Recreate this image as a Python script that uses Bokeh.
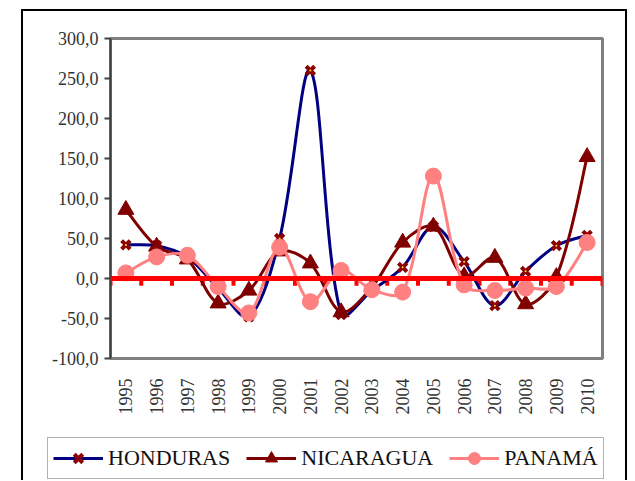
from bokeh.plotting import figure
from bokeh.layouts import column
from bokeh.models import (FixedTicker, ColumnDataSource, Span, Legend, LegendItem)
from bokeh.embed import file_html
from bokeh.resources import INLINE
import math

years = list(range(1995, 2011))
year_labels = [str(y) for y in years]
honduras = [42, 41, 27, -12, -48, 50, 260, -45, -15, 14, 65, 21, -34, 9, 41, 54]
nicaragua = [86, 40, 24, -31, -15, 34, 19, -42, -11, 45, 65, 3, 26, -32, 2, 152]
panama = [7, 27, 29, -10, -43, 39, -29, 10, -14, -17, 128, -8, -15, -12, -10, 45]
y_ticks = [-100, -50, 0, 50, 100, 150, 200, 250, 300]
y_tick_labels = ["-100,0", "-50,0", "0,0", "50,0", "100,0", "150,0", "200,0", "250,0", "300,0"]
names = ["HONDURAS", "NICARAGUA", "PANAMÁ"]
colors_line = ["#000080", "#800000", "#FF8080"]

FONT = "'Liberation Serif', 'Times New Roman', serif"

p = figure(width=602, height=420, output_backend="svg", toolbar_location=None,
           x_range=(1994.5, 2010.5), y_range=(-100, 300),
           min_border_left=87, min_border_right=23, min_border_top=27,
           min_border_bottom=73)
p.frame_align = False
p.grid.visible = False
p.background_fill_color = "white"
p.border_fill_color = "white"
p.outline_line_color = "#808080"
p.outline_line_width = 3

# y axis
p.yaxis.ticker = FixedTicker(ticks=y_ticks)
p.yaxis.major_label_overrides = {t: l for t, l in zip(y_ticks, y_tick_labels)}
p.yaxis.axis_line_color = "#404040"
p.yaxis.axis_line_width = 2
p.yaxis.major_tick_line_color = "#404040"
p.yaxis.major_tick_line_width = 2
p.yaxis.major_tick_out = 6
p.yaxis.major_tick_in = 0
p.yaxis.minor_tick_line_color = None
p.yaxis.major_label_text_font = FONT
p.yaxis.major_label_text_font_size = "18px"
p.yaxis.major_label_text_color = "#333333"
p.yaxis.major_label_standoff = 6

# x axis
p.xaxis.ticker = FixedTicker(ticks=years)
p.xaxis.major_label_overrides = {y: l for y, l in zip(years, year_labels)}
p.xaxis.major_label_orientation = math.pi / 2
p.xaxis.axis_line_color = None
p.xaxis.major_tick_line_color = None
p.xaxis.minor_tick_line_color = None
p.xaxis.major_label_text_font = FONT
p.xaxis.major_label_text_font_size = "18px"
p.xaxis.major_label_text_color = "#333333"
p.xaxis.major_label_standoff = 14

# red zero axis with ticks between categories
p.add_layout(Span(location=0, dimension="width", line_color="#FF0000", line_width=5))
bounds = [y - 0.5 for y in years] + [years[-1] + 0.5]
p.segment(x0=bounds, y0=[0] * len(bounds), x1=bounds, y1=[-9] * len(bounds),
          line_color="#FF0000", line_width=4)

# approximate pixel scale used only to weight the smoothing tangents
SX, SY = 30.75, 0.8


def bez_source(xs, ys):
    n = len(xs)
    d = dict(x0=[], y0=[], x1=[], y1=[], cx0=[], cy0=[], cx1=[], cy1=[])

    def dist(i, j):
        return math.hypot((xs[j] - xs[i]) * SX, (ys[j] - ys[i]) * SY)

    for i in range(n - 1):
        i0 = max(i - 1, 0)
        i3 = min(i + 2, n - 1)
        j = i + 1
        dp, dn = dist(i0, i), dist(i, j)
        f0 = dn / (dp + dn) / 3 if (dp + dn) > 0 else 0
        if i0 == i:
            f0 = 1 / 6
        dp2, dn2 = dist(i, j), dist(j, i3)
        f1 = dp2 / (dp2 + dn2) / 3 if (dp2 + dn2) > 0 else 0
        if i3 == j:
            f1 = 1 / 6
        d["x0"].append(xs[i]); d["y0"].append(ys[i])
        d["x1"].append(xs[j]); d["y1"].append(ys[j])
        d["cx0"].append(xs[i] + (xs[j] - xs[i0]) * f0)
        d["cy0"].append(ys[i] + (ys[j] - ys[i0]) * f0)
        d["cx1"].append(xs[j] - (xs[i3] - xs[i]) * f1)
        d["cy1"].append(ys[j] - (ys[i3] - ys[i]) * f1)
    return ColumnDataSource(d)


bez = dict(x0="x0", y0="y0", x1="x1", y1="y1", cx0="cx0", cy0="cy0",
           cx1="cx1", cy1="cy1")
# Honduras
p.bezier(source=bez_source(years, honduras), line_color=colors_line[0],
         line_width=3, **bez)
p.scatter(years, honduras, marker="x", size=12, line_color="#8B0000", line_width=4)
p.scatter(years, honduras, marker="dot", size=8, line_color="#FFE000",
          fill_color="#FFE000")
# Nicaragua
p.bezier(source=bez_source(years, nicaragua), line_color=colors_line[1],
         line_width=3, **bez)
p.scatter(years, nicaragua, marker="triangle", size=16, line_color="#800000",
          fill_color="#800000")
# Panama
p.bezier(source=bez_source(years, panama), line_color=colors_line[2],
         line_width=3, **bez)
p.scatter(years, panama, marker="circle", size=16, line_color="#FF8080",
          fill_color="#FF8080")

# legend strip (its renderers hold the series but lie outside its visible range)
q = figure(width=602, height=49, output_backend="svg", toolbar_location=None,
           x_range=(0, 1), y_range=(0, 1), x_axis_type=None, y_axis_type=None,
           min_border=0)
q.frame_align = False
q.grid.visible = False
q.outline_line_color = None
q.border_fill_color = "white"
l1 = q.line(years, honduras, line_color=colors_line[0], line_width=3)
s1 = q.scatter(years, honduras, marker="x", size=12, line_color="#8B0000", line_width=4)
l2 = q.line(years, nicaragua, line_color=colors_line[1], line_width=3)
s2 = q.scatter(years, nicaragua, marker="triangle", size=16, line_color="#800000",
               fill_color="#800000")
l3 = q.line(years, panama, line_color=colors_line[2], line_width=3)
s3 = q.scatter(years, panama, marker="circle", size=16, line_color="#FF8080",
               fill_color="#FF8080")

legend = Legend(items=[LegendItem(label=names[0], renderers=[l1, s1], index=0),
                       LegendItem(label=names[1], renderers=[l2, s2], index=0),
                       LegendItem(label=names[2], renderers=[l3, s3], index=0)],
                location=(24, 1), orientation="horizontal",
                label_text_font=FONT, label_text_font_size="22px",
                label_text_color="#111111",
                border_line_color="#666666", border_line_width=1,
                glyph_width=50, glyph_height=30, spacing=16, padding=5,
                label_standoff=5, margin=0, background_fill_alpha=1)
q.add_layout(legend, "center")

root = column(p, q, spacing=0,
              styles={"border-left": "2px solid black",
                      "border-top": "2px solid black",
                      "border-right": "2px solid black",
                      "margin-left": "21px", "margin-top": "9px"})

open("out.html", "w").write(file_html(root, INLINE))
